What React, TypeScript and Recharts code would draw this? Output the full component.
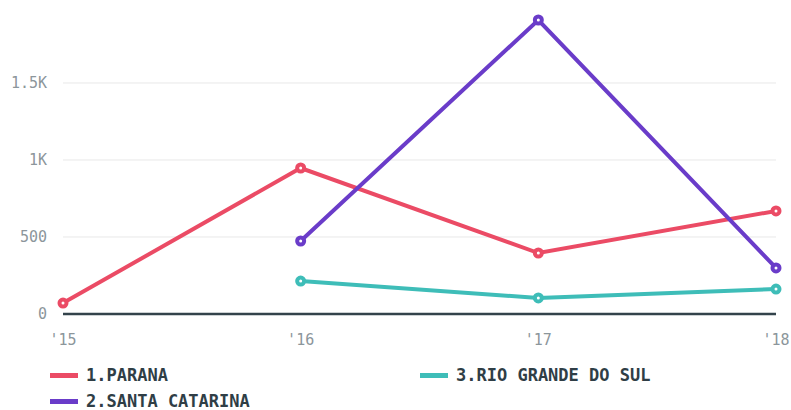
import { LineChart, Line, XAxis, YAxis, CartesianGrid } from "recharts";

if (typeof document !== "undefined") document.body.style.margin = "0";

const years = ["'15", "'16", "'17", "'18"];
const parana = [71, 948, 396, 669];
const santaCatarina = [null, 474, 1909, 299];
const rioGrande = [null, 214, 104, 162];
const yTicks = [0, 500, 1000, 1500];

const series = [
  { key: "parana", name: "1.PARANA", color: "#EB4B65", values: parana },
  { key: "santa", name: "2.SANTA CATARINA", color: "#6A3CC9", values: santaCatarina },
  { key: "rio", name: "3.RIO GRANDE DO SUL", color: "#3EBDB8", values: rioGrande },
];

const data = years.map((year, i) => {
  const row: Record<string, string | number | null> = { year };
  series.forEach((s) => {
    row[s.key] = s.values[i];
  });
  return row;
});

const font = "'DejaVu Sans Mono', monospace";

const fmt = (v: number) => (v >= 1000 ? `${v / 1000}K` : `${v}`);

const legendPos = [
  { left: 50, top: 366 },
  { left: 50, top: 392 },
  { left: 420, top: 366 },
];

export default function App() {
  return (
    <div style={{ position: "relative", width: 791, height: 410, fontFamily: font }}>
      <LineChart
        width={791}
        height={360}
        data={data}
        margin={{ top: 20, right: 15, left: 0, bottom: 0 }}
      >
        <CartesianGrid
          vertical={false}
          stroke="#E8E8E8"
          strokeWidth={1}
          horizontalValues={yTicks.slice(1)}
        />
        <XAxis
          dataKey="year"
          height={46}
          tick={{ fontSize: 15, fill: "#8C969B", fontFamily: font }}
          tickLine={false}
          tickSize={0}
          tickMargin={20}
          axisLine={{ stroke: "#33434B", strokeWidth: 2.5 }}
          interval={0}
        />
        <YAxis
          width={63}
          domain={[0, "dataMax"]}
          ticks={yTicks}
          tickFormatter={fmt}
          tick={{ fontSize: 15, fill: "#8C969B", fontFamily: font }}
          axisLine={false}
          tickLine={false}
          tickSize={0}
          tickMargin={16}
        />
        {series.map((s) => (
          <Line
            key={s.key}
            dataKey={s.key}
            name={s.name}
            stroke={s.color}
            strokeWidth={4}
            dot={{ r: 3.5, fill: "#fff", stroke: s.color, strokeWidth: 4 }}
            isAnimationActive={false}
          />
        ))}
      </LineChart>
      {series.map((s, i) => (
        <div
          key={s.key}
          style={{
            position: "absolute",
            left: legendPos[i].left,
            top: legendPos[i].top,
            display: "flex",
            alignItems: "center",
            height: 18,
          }}
        >
          <div style={{ width: 28, height: 5, background: s.color, marginRight: 8 }} />
          <span style={{ fontSize: 17, fontWeight: "bold", color: "#2F3E46" }}>{s.name}</span>
        </div>
      ))}
    </div>
  );
}
